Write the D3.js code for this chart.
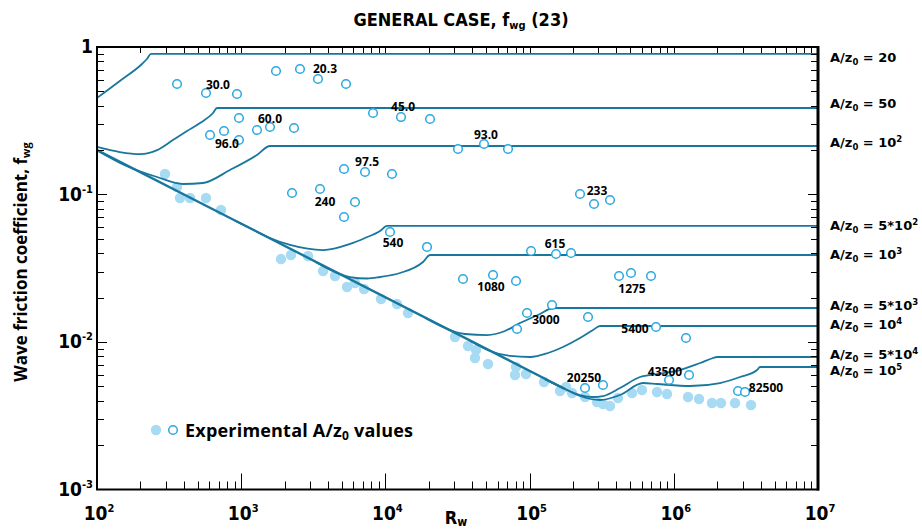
<!DOCTYPE html>
<html>
<head>
<meta charset="utf-8">
<script src="https://cdn.jsdelivr.net/npm/d3@7"></script>
<style>
  body { margin: 0; background: #fff; }
  svg { display: block; }
  .lbl { font-family: "Open Sans", sans-serif; font-weight: 700; fill: #000; }
  .wide { font-family: "DejaVu Sans", sans-serif; font-weight: 700; fill: #000; }
  .num { font-family: "Liberation Sans Narrow", "DejaVu Sans Condensed", sans-serif; font-stretch: condensed; font-weight: 700; fill: #000; }
</style>
</head>
<body>
<svg id="chart" width="922" height="530"></svg>
<script>
// ---- data: wave Reynolds number Rw vs wave friction coefficient fwg ----
const xDecades = [1e2, 1e3, 1e4, 1e5, 1e6, 1e7];
const yDecades = [1e-3, 1e-2, 1e-1, 1];

// relative roughness A/z0 for each theoretical curve (label parts: mantissa text, exponent)
const curveNames = [
  ["20", ""], ["50", ""], ["10", "2"], ["5*10", "2"], ["10", "3"],
  ["5*10", "3"], ["10", "4"], ["5*10", "4"], ["10", "5"]
];

// laminar branch shared by the rougher-to-smoother curves, [Rw, fwg]
const laminar = [[100, 0.2], [176100, 0.0048]];

// theoretical curves, [Rw, fwg]; the last point of each is its rough-turbulent plateau
const curve20 = [[100,0.451],[144,0.588],[205,0.767],[222,0.829],[237,0.897],[1e7,0.897]];
const curve50 = [[100,0.210],[144,0.194],[199,0.188],[261,0.200],[336,0.234],[421,0.269],[518,0.305],[638,0.357],[680,0.386],[1e7,0.386]];
const curve100 = [[100,0.200],[156,0.158],[261,0.1314],[395,0.1178],[543,0.1197],[836,0.1466],[1287,0.1853],[1584,0.2132],[1e7,0.2132]];
const curve500 = [[906,0.0665],[1151,0.0593],[1584,0.0507],[2181,0.0455],[3693,0.0420],[5683,0.0462],[7222,0.0507],[9176,0.0566],[10260,0.0612],[1e7,0.0612]];
const curve1000 = [[3250,0.0350],[4473,0.0298],[5683,0.02758],[7457,0.02694],[9176,0.02758],[12630,0.02936],[18230,0.03486],[20390,0.03889],[1e7,0.03889]];
const curve5000 = [[18820,0.0146],[25910,0.01244],[35650,0.01133],[50670,0.01115],[67520,0.01187],[85800,0.01345],[118100,0.01547],[145400,0.0170],[1e7,0.0170]];
const curve1e4 = [[38630,0.0102],[53150,0.00869],[73150,0.00804],[100700,0.00791],[134200,0.00842],[170500,0.00925],[223700,0.01064],[275400,0.01206],[307800,0.01284],[1e7,0.01284]];
const curve5e4 = [[127900,0.0056],[176100,0.0048],[223700,0.00437],[270900,0.004236],[322900,0.004303],[423600,0.004876],[583000,0.005789],[764800,0.006066],[1104000,0.006458],[1520000,0.007204],[1871000,0.00779],[1994000,0.007913],[1e7,0.007913]];
const curve1e5 = [[127900,0.0056],[176100,0.0048],[223700,0.004303],[307800,0.004043],[423600,0.004371],[611600,0.005271],[764800,0.00519],[1296000,0.00503],[2092000,0.005271],[2879000,0.005789],[3777000,0.006458],[3962000,0.006767],[1e7,0.006767]];
const curves = [curve20, curve50, curve100, curve500, curve1000, curve5000, curve1e4, curve5e4, curve1e5];

// experimental points (open circles), [Rw, fwg]
const openPoints = [
  [359,0.561],[570,0.488],[935,0.480],[1743,0.688],[2557,0.709],[3408,0.607],[5331,0.561],
  [965,0.330],[1287,0.2737],[1584,0.2869],[2324,0.2824],[608,0.2532],[760,0.2694],[965,0.2341],
  [8207,0.357],[12830,0.335],[20390,0.325],
  [31880,0.2035],[48290,0.220],[70850,0.2035],
  [5164,0.1489],[7222,0.1421],[11110,0.1377],
  [2251,0.1023],[3520,0.1089],[5164,0.0704],[6155,0.0889],
  [223700,0.1008],[279700,0.0862],[361100,0.0918],
  [10760,0.0557],[19440,0.0441],
  [102300,0.0414],[152500,0.0395],[193800,0.0401],
  [34530,0.02673],[55780,0.02846],[80500,0.02592],
  [416900,0.02802],[505000,0.02936],[695000,0.02802],
  [81790,0.01225],[95960,0.01572],[143000,0.0178],
  [254200,0.01477],[752700,0.01264],[1215000,0.01064],
  [242300,0.004876],[322900,0.00511],
  [926700,0.005525],[1275000,0.005973],
  [2789000,0.004653],[3118000,0.00458]
];

// experimental points (filled circles), [Rw, fwg]
const filledPoints = [
  [296,0.1377],[359,0.1124],[376,0.0947],[442,0.0947],[570,0.0947],[724,0.0785],
  [1888,0.0365],[2215,0.0389],[2906,0.0383],[3693,0.0303],[4473,0.0280],[5417,0.0236],
  [6155,0.0251],[7105,0.02287],[9322,0.01956],[12040,0.01809],[14350,0.01572],
  [30380,0.01081],[37400,0.00939],[42500,0.00882],[41820,0.00779],[51470,0.00709],
  [80500,0.00677],[79210,0.00597],[94430,0.00607],[125900,0.00536],[162500,0.00465],
  [178900,0.00495],[196900,0.00451],[242300,0.00424],[293400,0.00392],[322900,0.0038],
  [361100,0.00368],[410300,0.00417],[513200,0.00451],[602000,0.00473],[764800,0.00458],
  [897400,0.00444],[1255000,0.00424],[1496000,0.00411],[1841000,0.00386],[2125000,0.00386],
  [2658000,0.00386],[3431000,0.00374]
];

// measured A/z0 annotations, anchored at [Rw, fwg]
const groupLabels = [
  ["30.0",690,0.553],["20.3",3813,0.720],["60.0",1584,0.325],["96.0",797,0.2234],
  ["45.0",13250,0.398],["93.0",49840,0.2532],["97.5",7457,0.1661],["240",3813,0.0903],
  ["233",293400,0.1072],["540",11290,0.0476],["615",150100,0.0469],["1080",54000,0.02396],
  ["1275",513200,0.02323],["3000",129900,0.0141],["5400",538300,0.01225],
  ["20250",238400,0.005789],["43500",868900,0.006357],["82500",4360000,0.00495]
];

// ---- drawing ----
const svg = d3.select("#chart");
const box = { left: 97, right: 818, top: 47, bottom: 489.5 };
const x = d3.scaleLog().domain([1e2, 1e7]).range([box.left, box.right]);
const y = d3.scaleLog().domain([1e-3, 1]).range([box.bottom, box.top]);

const lineColor = "#19779e";
const openColor = "#2aa8df";
const fillColor = "#a6dbf3";

// title
const title = svg.append("text").attr("class", "num")
  .attr("x", 461).attr("y", 26).attr("text-anchor", "middle").attr("font-size", 18);
title.append("tspan").text("GENERAL CASE, f");
title.append("tspan").attr("font-size", 11).attr("dy", 3).text("wg");
title.append("tspan").attr("dy", -3).text(" (23)");

// filled experimental points sit beneath the curves
svg.append("g").selectAll("circle").data(filledPoints).join("circle")
  .attr("cx", d => x(d[0])).attr("cy", d => y(d[1])).attr("r", 5.2)
  .attr("fill", fillColor);

// laminar branch (straight in log-log) and the theoretical curves
const straight = d3.line().x(d => x(d[0])).y(d => y(d[1]));
svg.append("path").datum(laminar).attr("d", straight).attr("fill", "none")
  .attr("stroke", lineColor).attr("stroke-width", 2.4);

const line = d3.line().x(d => x(d[0])).y(d => y(d[1])).curve(d3.curveMonotoneX);
svg.append("g").selectAll("path").data(curves).join("path")
  .attr("d", line).attr("fill", "none")
  .attr("stroke", lineColor).attr("stroke-width", 1.8);

// open experimental points
svg.append("g").selectAll("circle").data(openPoints).join("circle")
  .attr("cx", d => x(d[0])).attr("cy", d => y(d[1])).attr("r", 4.3)
  .attr("fill", "#fff").attr("stroke", openColor).attr("stroke-width", 1.5);

// annotation numbers
svg.append("g").selectAll("text").data(groupLabels).join("text")
  .attr("class", "lbl").attr("font-size", 12)
  .attr("x", d => x(d[1])).attr("y", d => y(d[2]) + 4.5)
  .attr("text-anchor", "middle").text(d => d[0]);

// frame
const frame = svg.append("g").attr("stroke", "#000").attr("fill", "none");
frame.append("rect").attr("x", box.left).attr("y", box.top)
  .attr("width", box.right - box.left).attr("height", box.bottom - box.top)
  .attr("stroke-width", 2);
frame.append("line").attr("x1", box.right).attr("x2", box.right)
  .attr("y1", box.top - 1).attr("y2", box.bottom + 1).attr("stroke-width", 3);

// ticks
const isDecade = v => Math.abs(Math.log10(v) - Math.round(Math.log10(v))) < 1e-9;
const tickG = svg.append("g").attr("stroke", "#000").attr("stroke-width", 1);
x.ticks().filter(v => v > 1e2 && v < 1e7).forEach(v => {
  const px = Math.round(x(v)) + 0.5;
  const major = isDecade(v);
  tickG.append("line").attr("x1", px).attr("x2", px)
    .attr("y1", box.bottom).attr("y2", box.bottom - (major ? 16 : 8));
  tickG.append("line").attr("x1", px).attr("x2", px)
    .attr("y1", box.top).attr("y2", box.top + 6);
});
y.ticks().filter(v => v > 1e-3 && v < 1).forEach(v => {
  const py = Math.round(y(v)) + 0.5;
  const major = isDecade(v);
  tickG.append("line").attr("y1", py).attr("y2", py)
    .attr("x1", box.left).attr("x2", box.left + (major ? 10 : 7));
  tickG.append("line").attr("y1", py).attr("y2", py)
    .attr("x1", box.right).attr("x2", box.right - (major ? 10 : 7));
});

// x tick labels
xDecades.forEach(v => {
  const t = svg.append("text").attr("class", "num").attr("font-size", 19)
    .attr("x", x(v) + 2).attr("y", 520).attr("text-anchor", "middle");
  t.append("tspan").text("10");
  t.append("tspan").attr("font-size", 11).attr("dy", -8).text(Math.round(Math.log10(v)));
});

// y tick labels
yDecades.forEach(v => {
  const e = Math.round(Math.log10(v));
  const t = svg.append("text").attr("class", "num").attr("font-size", 19)
    .attr("x", 93).attr("y", y(v) + 6).attr("text-anchor", "end");
  if (e === 0) { t.text("1"); return; }
  t.append("tspan").text("10");
  t.append("tspan").attr("font-size", 11).attr("dy", -8).text(e);
});

// axis titles
const xt = svg.append("text").attr("class", "num").attr("font-size", 18)
  .attr("x", 456).attr("y", 524).attr("text-anchor", "middle");
xt.append("tspan").text("R");
xt.append("tspan").attr("font-size", 12).attr("dy", 2).text("w");

const yt = svg.append("text").attr("class", "lbl").attr("font-size", 17)
  .attr("transform", "translate(27,262) rotate(-90)").attr("text-anchor", "middle");
yt.append("tspan").text("Wave friction coefficient, f");
yt.append("tspan").attr("font-size", 11).attr("dy", 3).text("wg");

// curve labels on the right, at each plateau level
const labelNudge = [3, -5, -4, -1, -1, -3, -2, -3, 3];
curves.forEach((c, i) => {
  const plateau = c[c.length - 1][1];
  const t = svg.append("text").attr("class", "wide").attr("font-size", 13)
    .attr("x", 830).attr("y", y(plateau) + labelNudge[i] + 5);
  t.append("tspan").text("A/z");
  t.append("tspan").attr("font-size", 8.5).attr("dy", 3).text("0");
  t.append("tspan").attr("dy", -3).text(" = " + curveNames[i][0]);
  if (curveNames[i][1]) t.append("tspan").attr("font-size", 8.5).attr("dy", -5).text(curveNames[i][1]);
});

// legend
svg.append("circle").attr("cx", 156).attr("cy", 430).attr("r", 5.2).attr("fill", fillColor);
svg.append("circle").attr("cx", 173).attr("cy", 430).attr("r", 4.3)
  .attr("fill", "#fff").attr("stroke", openColor).attr("stroke-width", 1.5);
const lg = svg.append("text").attr("class", "lbl").attr("font-size", 18)
  .attr("x", 185).attr("y", 437).attr("letter-spacing", 0.2);
lg.append("tspan").text("Experimental A/z");
lg.append("tspan").attr("font-size", 12).attr("dy", 3).text("0");
lg.append("tspan").attr("dy", -3).text(" values");
</script>
</body>
</html>
